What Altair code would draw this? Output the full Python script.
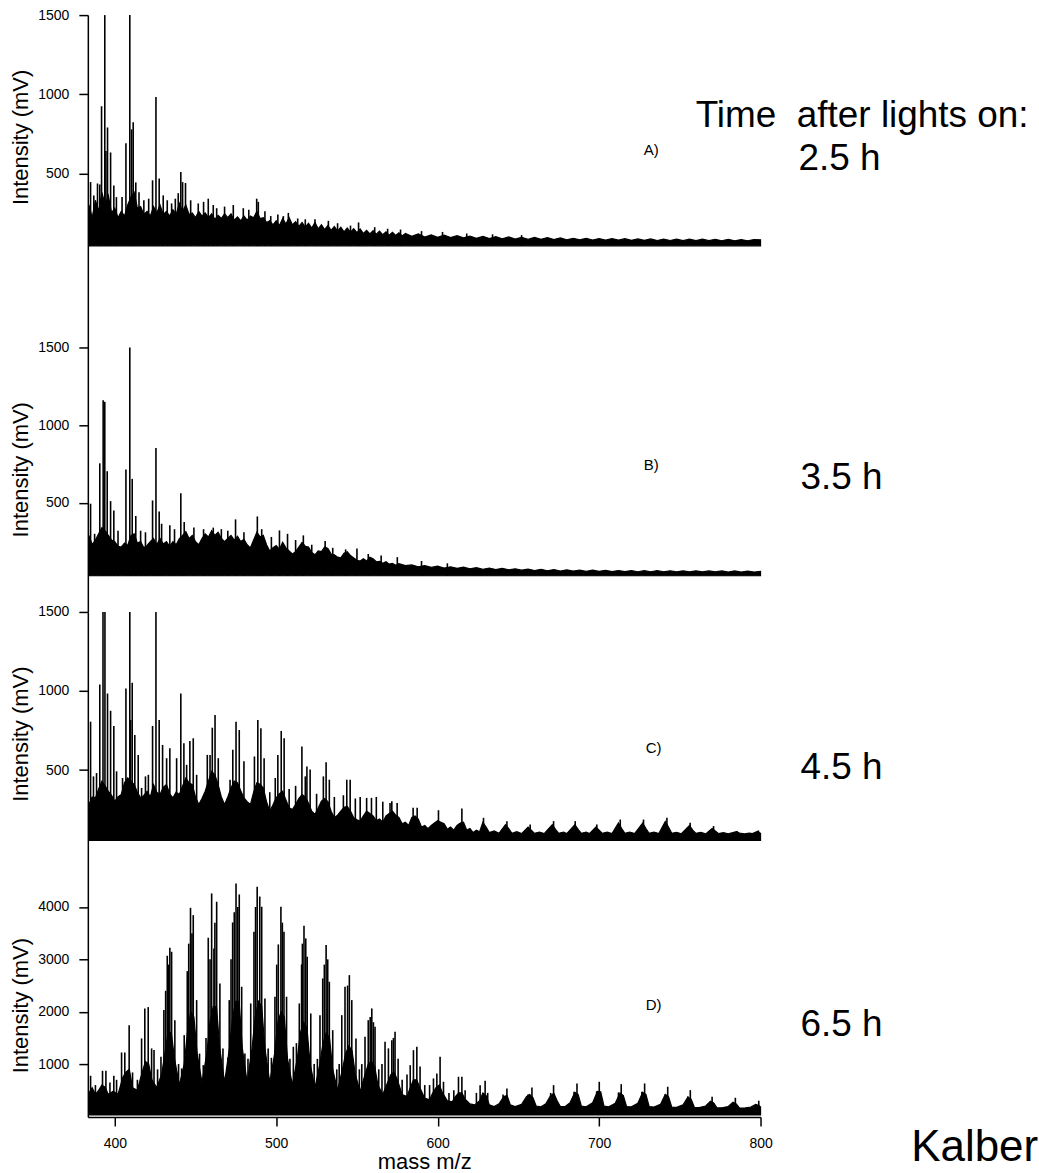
import altair as alt
import pandas as pd

FONT = "Liberation Sans"
X_TICKS = [400, 500, 600, 700, 800]
X_DOMAIN = [383.3, 800]

# ---------------- Panel A (2.5 h): (m/z, upper edge of dense trace) ----------------
a_env = [(384, 300), (386, 220), (388, 330), (390, 260), (392, 380), (394, 300), (396, 360), (398, 250),
         (400, 280), (402, 220), (404, 260), (406, 230), (408, 300), (410, 350), (412, 380), (414, 280),
         (416, 290), (418, 240), (420, 260), (422, 230), (424, 290), (426, 250), (428, 300), (430, 240),
         (432, 260), (434, 230), (436, 270), (438, 240), (440, 310), (442, 260), (444, 300), (446, 240),
         (448, 250), (450, 220), (452, 260), (454, 230), (456, 250), (458, 220), (460, 245), (462, 210),
         (464, 235), (466, 215), (468, 245), (470, 220), (472, 245), (474, 205), (476, 225), (478, 200),
         (480, 230), (482, 205), (484, 230), (486, 220), (488, 260), (490, 215), (492, 220), (494, 190),
         (496, 200), (498, 175), (500, 200), (502, 170), (504, 215), (506, 180), (508, 220), (510, 175),
         (512, 195), (514, 165), (516, 190), (518, 160), (520, 185), (522, 155), (524, 190), (526, 150),
         (528, 175), (530, 145), (532, 170), (534, 140), (536, 165), (538, 135), (540, 160), (542, 130),
         (544, 155), (546, 128), (548, 150), (550, 125), (552, 148), (554, 120), (556, 140), (558, 118),
         (560, 138), (562, 115), (564, 135), (566, 112), (568, 130), (570, 110), (572, 128), (574, 108),
         (576, 125), (578, 105), (580, 120), (584, 102), (588, 118), (592, 98), (596, 112), (600, 96),
         (604, 110), (608, 94), (612, 106), (616, 92), (620, 104), (624, 90), (628, 102), (632, 88),
         (636, 100), (640, 86), (644, 98), (648, 85), (652, 96), (656, 84), (660, 95), (664, 83),
         (668, 94), (672, 82), (676, 92), (680, 80), (684, 90), (688, 80), (692, 90), (696, 79),
         (700, 88), (704, 78), (708, 88), (712, 78), (716, 87), (720, 77), (724, 86), (728, 77),
         (732, 86), (736, 76), (740, 85), (744, 76), (748, 85), (752, 75), (756, 84), (760, 75),
         (764, 84), (768, 75), (772, 83), (776, 74), (780, 83), (784, 74), (788, 82), (792, 74),
         (796, 82), (800, 80)]
a_base = 42
a_peaks = [(385, 445), (387, 360), (389.3, 436), (390.7, 430), (391.8, 924), (393.8, 1500), (394.5, 641),
           (395.5, 790), (397.4, 632), (399.4, 424), (401, 350), (404.5, 350), (406.9, 690), (409.3, 1500),
           (410.4, 778), (411.4, 823), (413, 443), (415, 380), (418, 330), (421, 340), (423.4, 456),
           (425.5, 983), (427.5, 468), (430, 361), (432.5, 330), (435.2, 310), (437.5, 340), (439.3, 375),
           (440.9, 508), (442, 445), (443.8, 439), (447, 330), (451.7, 310), (455, 320), (457.9, 340),
           (461, 300), (463.1, 280), (468, 290), (473.4, 300), (479.6, 280), (483, 270), (487.9, 340),
           (488.9, 320), (493, 260), (496.6, 230), (501, 240), (504.4, 230), (507.5, 250), (513.3, 215),
           (518, 210), (524, 210), (532.3, 200), (538, 185), (546, 170), (551, 190), (561, 160),
           (569, 150), (577, 145), (590, 135), (603, 130), (618, 120), (634, 115), (652, 110)]

# ---------------- Panel B (3.5 h) ----------------
b_env = [(384, 290), (386, 230), (388, 260), (390, 300), (392, 340), (394, 320), (396, 290), (398, 260),
         (400, 250), (402, 220), (404, 215), (406, 240), (408, 225), (410, 290), (412, 300), (414, 240),
         (416, 250), (418, 210), (420, 225), (422, 250), (424, 270), (426, 230), (428, 270), (430, 235),
         (432, 250), (434, 220), (436, 250), (438, 230), (440, 270), (442, 290), (444, 315), (446, 270),
         (448, 290), (450, 250), (452, 230), (454, 270), (456, 300), (458, 280), (460, 320), (462, 290),
         (464, 310), (466, 270), (468, 250), (470, 270), (472, 290), (474, 260), (476, 285), (478, 250),
         (480, 265), (482, 230), (484, 210), (486, 260), (488, 310), (490, 280), (492, 290), (494, 230),
         (496, 190), (498, 210), (500, 225), (502, 200), (504, 245), (506, 210), (508, 190), (510, 170),
         (512, 185), (514, 215), (516, 245), (518, 220), (520, 215), (522, 180), (524, 165), (526, 190),
         (528, 185), (530, 215), (532, 205), (534, 170), (536, 165), (538, 150), (540, 145), (542, 175),
         (544, 185), (546, 160), (548, 145), (550, 130), (552, 125), (554, 140), (556, 125), (558, 150),
         (560, 140), (562, 120), (564, 122), (566, 110), (568, 120), (570, 105), (572, 110), (574, 98),
         (576, 108), (580, 95), (584, 100), (588, 88), (592, 96), (596, 84), (600, 92), (604, 80),
         (608, 88), (612, 78), (616, 85), (620, 75), (624, 82), (628, 72), (632, 80), (636, 70),
         (640, 78), (644, 68), (648, 75), (652, 66), (656, 73), (660, 64), (664, 72), (668, 62),
         (672, 70), (676, 60), (680, 68), (684, 60), (688, 67), (692, 58), (696, 66), (700, 58),
         (704, 65), (708, 57), (712, 64), (716, 57), (720, 64), (724, 56), (728, 63), (732, 56),
         (736, 63), (740, 56), (744, 62), (748, 55), (752, 62), (756, 55), (760, 62), (764, 55),
         (768, 61), (772, 55), (776, 61), (780, 54), (784, 61), (788, 54), (792, 60), (796, 54), (800, 58)]
b_base = 30
b_peaks = [(385, 494), (387.5, 300), (390.7, 754), (392.8, 1160), (393.8, 1150), (395.3, 703), (397.4, 511),
           (399.4, 451), (402, 320), (406.9, 714), (409.3, 1500), (410.8, 654), (413, 415), (416, 320),
           (419, 310), (423.4, 515), (425.5, 853), (427.5, 444), (429, 365), (434.1, 355), (437, 330),
           (440.9, 562), (443, 376), (449, 340), (455, 330), (461, 340), (466, 330), (470, 320), (474.8, 393),
           (480, 310), (488.3, 412), (491, 330), (497, 280), (502, 322), (507, 300), (512, 260), (516.8, 290),
           (522, 230), (530.3, 254), (535, 210), (543, 200), (550, 205), (557, 170), (565, 160), (575, 150),
           (590, 125), (606, 110)]

# ---------------- Panel C (4.5 h) ----------------
c_env = [(384, 282), (386, 330), (388, 324), (390, 380), (392, 429), (394, 400), (396, 366), (398, 340),
         (400, 303), (402, 330), (404, 345), (406, 420), (408, 450), (410, 430), (412, 408), (414, 360),
         (416, 324), (418, 340), (420, 366), (422, 330), (424, 408), (426, 360), (428, 345), (430, 390),
         (432, 408), (434, 350), (436, 324), (438, 360), (440, 345), (442, 400), (444, 450), (446, 420),
         (448, 408), (450, 330), (452, 282), (454, 320), (456, 366), (458, 430), (460, 492), (462, 470),
         (464, 408), (466, 330), (468, 282), (470, 330), (472, 387), (474, 430), (476, 420), (478, 370),
         (480, 324), (482, 300), (484, 282), (486, 360), (488, 420), (490, 410), (492, 387), (494, 300),
         (496, 240), (498, 280), (500, 324), (502, 350), (504, 366), (506, 310), (508, 261), (510, 250),
         (512, 282), (514, 320), (516, 345), (518, 330), (520, 290), (522, 240), (524, 219), (526, 260),
         (528, 303), (530, 320), (532, 300), (534, 240), (536, 198), (538, 215), (540, 240), (542, 265),
         (544, 270), (546, 240), (548, 198), (550, 185), (552, 177), (554, 210), (556, 240), (558, 225),
         (560, 210), (562, 180), (564, 190), (566, 170), (568, 210), (570, 225), (572, 240), (574, 215),
         (576, 200), (578, 160), (580, 170), (582, 150), (584, 200), (586, 210), (588, 190), (590, 140),
         (592, 150), (594, 130), (596, 150), (598, 165), (600, 180), (602, 170), (604, 160), (606, 125),
         (608, 140), (610, 120), (612, 150), (614, 165), (616, 170), (618, 120), (620, 130), (622, 105),
         (624, 120), (626, 110), (628, 170), (630, 140), (632, 105), (635, 115), (638, 100), (642, 155),
         (644, 130), (646, 100), (649, 110), (652, 98), (656, 140), (658, 120), (660, 100), (663, 108),
         (666, 98), (671, 155), (673, 125), (675, 100), (678, 108), (680, 98), (685, 155), (687, 125),
         (689, 100), (692, 108), (694, 98), (698, 140), (700, 120), (702, 100), (705, 108), (708, 98),
         (712, 165), (714, 130), (716, 100), (719, 108), (722, 98), (727, 165), (729, 130), (731, 100),
         (734, 108), (737, 98), (741, 175), (743, 140), (745, 100), (748, 106), (751, 97), (756, 150),
         (758, 120), (760, 100), (763, 106), (766, 96), (770, 130), (772, 115), (774, 98), (777, 104),
         (780, 96), (785, 110), (787, 102), (790, 96), (793, 102), (795, 98), (798, 112), (800, 100)]
c_base = 55
c_peaks = [(385, 806), (386.8, 460), (388.7, 481), (390.7, 1041), (392.7, 1500), (393.9, 1500), (395.5, 984),
           (397.4, 875), (399.4, 779), (401.1, 492), (404.8, 450), (406.9, 1016), (409.3, 1500), (409.8, 816),
           (410.8, 1052), (412.4, 722), (414.5, 596), (416.6, 387), (419, 460), (420.8, 470), (423.4, 779),
           (425.5, 1500), (427.5, 816), (429.6, 659), (432.1, 575), (434.1, 638), (438.3, 575), (440.9, 984),
           (442.8, 670), (444.5, 533), (446.5, 684), (448.6, 701), (450.7, 470), (457.3, 596), (459, 596),
           (460.4, 768), (462.1, 848), (464.1, 575), (471.4, 439), (473.1, 628), (475.1, 806), (477.1, 753),
           (480, 555), (486.5, 586), (488.6, 816), (490.5, 764), (492.5, 575), (496, 360), (499.4, 450),
           (501, 596), (503.1, 747), (504.9, 701), (508, 380), (512, 400), (515.9, 649), (518, 460),
           (519, 523), (521, 503), (525, 350), (529.2, 460), (530.9, 550), (532.9, 439), (536, 330),
           (541.6, 341), (543.7, 439), (545.8, 439), (549, 320), (552, 330), (556, 324), (559, 324),
           (562, 330), (566, 300), (570.5, 292), (571.6, 303), (574.9, 292), (584.8, 261), (587.3, 261),
           (600.5, 246), (615, 257), (628.4, 198), (642.9, 177), (657.3, 156), (671.8, 177), (685.2, 177),
           (698.6, 156), (713.1, 187), (727.5, 187), (742, 198), (756.4, 167), (770.9, 146), (785.3, 114),
           (798.7, 118)]

# ---------------- Panel D (6.5 h) ----------------
d_env = [(384, 450), (386, 550), (388, 420), (390, 500), (392, 600), (394, 560), (396, 420), (399, 480),
         (402, 420), (405, 750), (407, 850), (409, 900), (411, 550), (414, 500), (417, 850), (419, 1050),
         (421, 1000), (423, 700), (426, 550), (429, 800), (431, 1200), (433, 1600), (435, 1600), (437, 1100),
         (440, 600), (443, 1000), (445, 1600), (447, 2000), (449, 1900), (451, 1200), (454, 650), (457, 1200),
         (459, 1800), (461, 2100), (463, 2100), (465, 1300), (468, 650), (471, 1300), (473, 1900), (475, 2200),
         (477, 2200), (479, 1300), (482, 650), (485, 1300), (487, 1900), (489, 2200), (491, 2100), (493, 1300),
         (496, 650), (499, 1200), (501, 1800), (503, 2000), (505, 1900), (507, 1100), (510, 600), (513, 1100),
         (515, 1600), (517, 1800), (519, 1700), (521, 1000), (524, 550), (527, 1000), (529, 1400), (531, 1600),
         (533, 1500), (535, 900), (538, 500), (541, 900), (543, 1200), (545, 1350), (547, 1250), (549, 800),
         (552, 480), (555, 800), (557, 1000), (559, 1050), (561, 950), (563, 600), (566, 420), (569, 650),
         (571, 800), (573, 850), (575, 700), (578, 420), (581, 380), (583, 550), (585, 700), (587, 700),
         (589, 550), (592, 350), (595, 320), (597, 450), (599, 550), (601, 600), (603, 450), (606, 300),
         (609, 280), (611, 380), (613, 450), (615, 450), (617, 330), (620, 240), (623, 220), (626, 300),
         (628, 450), (630, 400), (632, 220), (635, 190), (638, 240), (641, 380), (643, 400), (645, 220),
         (648, 190), (652, 230), (655, 380), (657, 420), (659, 360), (661, 200), (664, 185), (667, 240),
         (670, 400), (672, 440), (674, 300), (676, 190), (679, 190), (682, 260), (685, 460), (687, 420),
         (689, 200), (692, 185), (696, 260), (699, 480), (701, 470), (703, 200), (706, 185), (710, 250),
         (713, 450), (715, 400), (717, 190), (720, 185), (724, 250), (727, 460), (729, 420), (731, 190),
         (734, 180), (738, 230), (741, 420), (743, 380), (745, 180), (748, 175), (752, 220), (755, 370),
         (757, 330), (759, 175), (762, 170), (766, 200), (769, 290), (771, 260), (773, 165), (776, 165),
         (780, 190), (783, 270), (785, 240), (787, 160), (790, 160), (794, 180), (797, 230), (799, 210),
         (800, 180)]
d_base = 30
d_peaks = [(385, 777), (388, 600), (392.4, 872), (394.5, 872), (397, 650), (399.4, 777), (401.1, 700),
           (404.2, 1222), (406.2, 1222), (408.9, 1744), (411, 840), (414, 700), (416.6, 1490), (418.6, 2063),
           (420.7, 2088), (422.8, 1299), (424.3, 1268), (426.5, 900), (428.6, 1140), (430.4, 2031),
           (431.5, 2400), (432.5, 3069), (433.3, 2900), (434.1, 3221), (435.2, 3145), (437.2, 1839),
           (439.5, 1000), (441.4, 917), (443, 1553), (444.9, 2775), (445.8, 3300), (446.9, 3985),
           (447.8, 3500), (448.6, 3845), (450.7, 2222), (452.5, 1200), (454.8, 980), (456.5, 1500),
           (457.9, 3413), (459, 3000), (460, 4259), (461.4, 3209), (462, 3700), (463.1, 4100), (465.1, 2540),
           (467, 1300), (470, 1120), (470.9, 2222), (472, 3000), (473, 3705), (474, 3900), (475.1, 4450),
           (476.2, 4000), (477.1, 4240), (478.6, 2477), (480.6, 1203), (482.5, 1100), (484.2, 2158),
           (486.2, 3527), (487.2, 4000), (488.2, 4387), (489.8, 4200), (491, 4005), (493, 2254), (495, 1300),
           (497, 1120), (499.2, 2286), (500.3, 2900), (501.3, 3285), (502.9, 4005), (503.8, 3700),
           (504.8, 3527), (506.4, 2286), (508.5, 1100), (510.6, 1331), (512.5, 1400), (514.3, 2158),
           (515.7, 2903), (516.2, 3300), (517.2, 3642), (518.3, 3400), (519.2, 3050), (521.4, 1967),
           (523.5, 1000), (525.5, 1100), (527.1, 1935), (528.8, 2636), (529.8, 2900), (530.9, 3272),
           (531.9, 3000), (532.9, 2572), (535, 1648), (537.5, 900), (539, 1000), (540.6, 1935), (542.6, 2477),
           (544.2, 2500), (545.3, 2699), (546.8, 2222), (549.4, 1490), (551.5, 900), (553, 1000), (555, 1522),
           (557, 1839), (558.2, 1900), (559.2, 2063), (560.2, 1800), (561.2, 1713), (563.5, 900), (565.5, 1000),
           (567.4, 1427), (569.5, 1300), (571.6, 1457), (572.6, 1500), (573.6, 1618), (575.5, 1100), (578, 700),
           (581, 800), (583, 980), (585, 1266), (587.1, 1331), (589.1, 955), (592, 600), (595, 600),
           (597.4, 726), (599.5, 821), (601.5, 1140), (603.6, 662), (607, 450), (610, 500), (612.9, 758),
           (615, 758), (617, 500), (624, 450), (626.3, 598), (629.4, 682), (631, 450), (640.5, 420),
           (642.9, 535), (656, 420), (658.4, 554), (670, 450), (671.8, 598), (684.5, 470), (686.3, 630),
           (698.5, 480), (700.1, 662), (712, 460), (713.7, 617), (726.5, 470), (728.2, 630), (741, 420),
           (742.5, 567), (755, 380), (756.5, 503), (770, 376), (784.4, 357), (798.9, 300)]


def make_panel(env, base, peaks, y_domain, y_ticks, height, texts, show_x):
    env_mz, env_int = zip(*env)
    pk_mz, pk_int = zip(*peaks)
    env_df = pd.DataFrame({"mz": env_mz, "y": env_int, "base": [base] * len(env_mz)})
    pk_df = pd.DataFrame({"mz": pk_mz, "y": pk_int, "base": [base] * len(pk_mz)})
    if show_x:
        xaxis = alt.Axis(values=X_TICKS, title="mass m/z", tickSize=9, labelPadding=11,
                         titleY=52, titleBaseline="alphabetic", labelFlush=False)
    else:
        xaxis = None
    xenc = alt.X("mz:Q", scale=alt.Scale(domain=X_DOMAIN, nice=False, zero=False), axis=xaxis)
    yaxis = alt.Axis(values=y_ticks, title="Intensity (mV)", tickSize=9, labelPadding=10,
                     titleX=-60, titleY=122, titleAngle=270, titleAlign="center",
                     titleBaseline="alphabetic", labelFlush=False, format="d")
    yenc = alt.Y("y:Q", scale=alt.Scale(domain=y_domain, nice=False, zero=False), axis=yaxis)
    area = alt.Chart(env_df).mark_area(color="black", stroke="black", strokeWidth=1.2).encode(
        x=xenc, y=yenc, y2="base:Q")
    rules = alt.Chart(pk_df).mark_rule(color="black", strokeWidth=1.6).encode(
        x="mz:Q", y="y:Q", y2="base:Q")
    layers = [area, rules]
    for txt, px, py, fs in texts:
        layers.append(
            alt.Chart(pd.DataFrame({"t": [txt]})).mark_text(
                align="left", baseline="alphabetic", font=FONT, fontSize=fs, color="black"
            ).encode(x=alt.value(px), y=alt.value(py), text="t:N")
        )
    return alt.layer(*layers).properties(width=674, height=height)


panel_a = make_panel(a_env, a_base, a_peaks, [-600, 1500], [500, 1000, 1500], 333,
                     [("A)", 557, 140, 15), ("Time\u00a0 after lights on:", 609, 112, 37), ("2.5 h", 712, 155, 37)],
                     False)
panel_b = make_panel(b_env, b_base, b_peaks, [-203, 1500], [500, 1000, 1500], 265,
                     [("B)", 557, 123, 15), ("3.5 h", 714, 142, 37)], False)
panel_c = make_panel(c_env, c_base, c_peaks, [-217, 1500], [500, 1000, 1500], 272,
                     [("C)", 559, 141, 15), ("4.5 h", 714, 167, 37)], False)
panel_d = make_panel(d_env, d_base, d_peaks, [-10, 4450], [1000, 2000, 3000, 4000], 234,
                     [("D)", 559, 127, 15), ("6.5 h", 714, 153, 37), ("Kalber", 825, 278, 44)], True)

chart = alt.vconcat(panel_a, panel_b, panel_c, panel_d, spacing=0, bounds="flush").configure_view(
    stroke=None
).configure_axis(
    labelFont=FONT, labelFontSize=14, labelColor="black",
    titleFont=FONT, titleFontSize=22, titleFontWeight="normal", titleColor="black",
    domainColor="black", domainWidth=1.5, tickColor="black", tickWidth=1.5, grid=False,
    labelOverlap=False
).properties(
    padding={"left": 10, "top": 7, "right": 0, "bottom": 0}
)

chart.save("out.html", embed_options={"renderer": "svg", "actions": False})
